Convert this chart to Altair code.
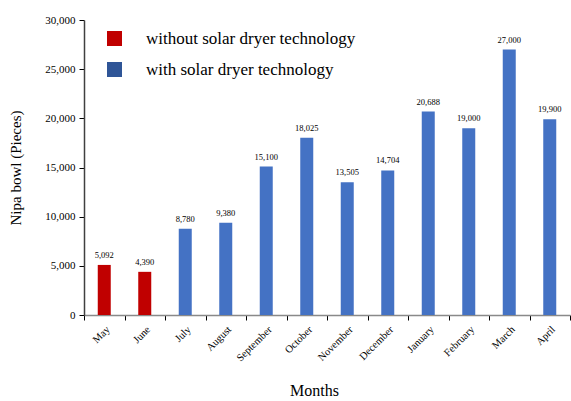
import altair as alt
import pandas as pd

# Monthly nipa bowl output, before and after adopting the solar dryer
months = ["May", "June", "July", "August", "September", "October",
          "November", "December", "January", "February", "March", "April"]
pieces = [5092, 4390, 8780, 9380, 15100, 18025,
          13505, 14704, 20688, 19000, 27000, 19900]
groups = ["without solar dryer technology"] * 2 + ["with solar dryer technology"] * 10

group_names = ["without solar dryer technology", "with solar dryer technology"]
bar_colors = ["#C00000", "#4472C4"]
key_colors = ["#C00000", "#2F5597"]

df = pd.DataFrame({"Month": months, "Pieces": pieces, "Group": groups})

FONT = "Liberation Serif"

x = alt.X(
    "Month:N",
    sort=months,
    scale=alt.Scale(paddingInner=0, paddingOuter=0),
    axis=alt.Axis(
        title="Months",
        labelAngle=-45,
        labelFontSize=10.5,
        labelColor="#000000",
        labelPadding=4,
        tickBand="extent",
        tickSize=5,
        tickColor="#000000",
        domainColor="#898989",
        domainWidth=1.5,
        titleFontSize=16,
        titleFontWeight="normal",
        titlePadding=19,
        titleX=230,
        titleColor="#000000",
    ),
)

y = alt.Y(
    "Pieces:Q",
    scale=alt.Scale(domain=[0, 30000]),
    axis=alt.Axis(
        title="Nipa bowl (Pieces)",
        values=[0, 5000, 10000, 15000, 20000, 25000, 30000],
        format=",d",
        grid=False,
        labelFontSize=11,
        labelColor="#000000",
        labelPadding=4,
        tickSize=5,
        tickColor="#000000",
        domainColor="#404040",
        domainWidth=1.5,
        titleFontSize=15,
        titleFontWeight="normal",
        titlePadding=21,
        titleColor="#000000",
    ),
)

bars = alt.Chart(df).mark_bar(size=13).encode(
    x=x,
    y=y,
    color=alt.Color(
        "Group:N",
        sort=group_names,
        scale=alt.Scale(domain=group_names, range=bar_colors),
        legend=None,
    ),
)

# invisible squares that only carry the colour key
key = alt.Chart(df).mark_square(opacity=0).encode(
    x=alt.X("Month:N", sort=months),
    y="Pieces:Q",
    color=alt.Color(
        "Group:N",
        sort=group_names,
        scale=alt.Scale(domain=group_names, range=key_colors),
        legend=alt.Legend(
            title=None,
            orient="none",
            legendX=22,
            legendY=10,
            symbolType="square",
            symbolSize=225,
            symbolOpacity=1,
            symbolStrokeWidth=0,
            labelFontSize=17,
            labelColor="#000000",
            labelOffset=23,
            rowPadding=13,
            labelLimit=400,
        ),
    ),
)

labels = alt.Chart(df).mark_text(
    baseline="bottom", dy=-5, fontSize=8.5, font=FONT, color="#000000"
).encode(
    x=alt.X("Month:N", sort=months),
    y="Pieces:Q",
    text=alt.Text("Pieces:Q", format=",d"),
)

chart = (
    alt.layer(bars, key, labels)
    .resolve_scale(color="independent")
    .properties(
        width=486,
        height=295,
        padding={"left": 84, "top": 20, "right": 1, "bottom": 86},
        autosize=alt.AutoSizeParams(type="none"),
    )
    .configure(font=FONT)
    .configure_view(stroke=None)
)

chart.save("out.html", embed_options={"renderer": "svg", "actions": False})
